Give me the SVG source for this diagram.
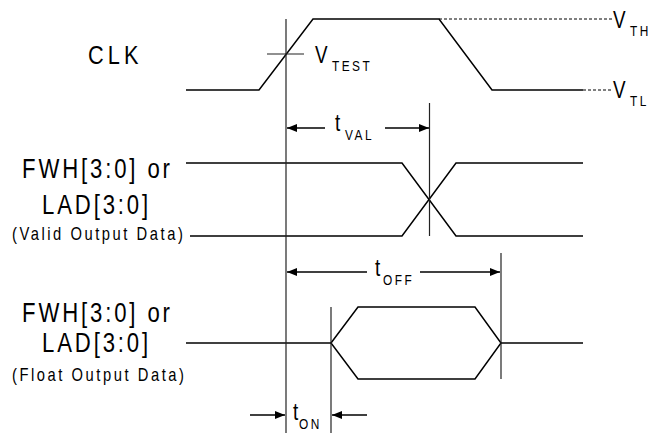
<svg xmlns="http://www.w3.org/2000/svg" width="652" height="433" viewBox="0 0 652 433">
<style>
.sig{fill:none;stroke:#000;stroke-width:1.5;stroke-linejoin:miter}
.ref{fill:none;stroke:#222;stroke-width:1.2}
.dash{fill:none;stroke:#000;stroke-width:1;stroke-dasharray:3,2}
.arr{fill:none;stroke:#000;stroke-width:1.3}
text{font-family:"Liberation Sans",Arial,sans-serif;fill:#000}
.lbl{font-size:27px;letter-spacing:3.5px}
.clk{font-size:26.5px;letter-spacing:5px}
.sm{font-size:18px;letter-spacing:3.1px}
.big{font-size:23px}
.sub{font-size:14.5px;letter-spacing:3px}
</style>
<defs>
<marker id="ah" markerWidth="11" markerHeight="9" refX="10" refY="4" orient="auto" markerUnits="userSpaceOnUse">
<path d="M0,0 L10,4 L0,8 z" fill="#000"/>
</marker>
</defs>
<g id="labels">
<text class="clk" transform="translate(88,64) scale(0.82,1)">CLK</text>
<text class="lbl" transform="translate(22,178) scale(0.82,1)">FWH[3:0] or</text>
<text class="lbl" transform="translate(42,214) scale(0.82,1)">LAD[3:0]</text>
<text class="sm" transform="translate(12,240) scale(0.82,1)">(Valid Output Data)</text>
<text class="lbl" transform="translate(22,322) scale(0.82,1)">FWH[3:0] or</text>
<text class="lbl" transform="translate(42,352) scale(0.82,1)">LAD[3:0]</text>
<text class="sm" transform="translate(12,381) scale(0.82,1)">(Float Output Data)</text>
</g>
<g id="clk">
<polyline class="sig" points="186,90 259,90 313,19 439,19 492,90 583,90"/>
<line class="dash" x1="439" y1="19" x2="612" y2="19"/>
<line class="dash" x1="583" y1="90" x2="612" y2="90"/>
<line class="ref" x1="267" y1="54" x2="304" y2="54"/>
<text class="big" transform="translate(315,63) scale(0.82,1)">V</text>
<text class="sub" transform="translate(332,71) scale(0.82,1)">TEST</text>
<text class="big" transform="translate(613,28) scale(0.82,1)">V</text>
<text class="sub" transform="translate(630,36) scale(0.82,1)">TH</text>
<text class="big" transform="translate(613,98) scale(0.82,1)">V</text>
<text class="sub" transform="translate(630,106) scale(0.82,1)">TL</text>
</g>
<g id="valid">
<polyline class="sig" points="186,163 402,163 456,236 583,236"/>
<polyline class="sig" points="190,236 402,236 456,163 583,163"/>
</g>
<g id="float">
<line class="sig" x1="186" y1="343" x2="331" y2="343"/>
<polygon class="sig" points="331,343 358,307 475,307 501,343 475,379 358,379"/>
<line class="sig" x1="501" y1="343" x2="583" y2="343"/>
</g>
<g id="connectors">
<line class="ref" x1="286" y1="19" x2="286" y2="433"/>
<line class="ref" x1="429.5" y1="103" x2="429.5" y2="236"/>
<line class="ref" x1="501" y1="253" x2="501" y2="379"/>
<line class="ref" x1="331" y1="307" x2="331" y2="433"/>
<line class="arr" x1="325" y1="128" x2="287" y2="128" marker-end="url(#ah)"/>
<line class="arr" x1="385" y1="128" x2="429" y2="128" marker-end="url(#ah)"/>
<line class="arr" x1="367" y1="272" x2="287" y2="272" marker-end="url(#ah)"/>
<line class="arr" x1="420" y1="272" x2="500" y2="272" marker-end="url(#ah)"/>
<line class="arr" x1="250" y1="415" x2="285" y2="415" marker-end="url(#ah)"/>
<line class="arr" x1="367" y1="415" x2="332" y2="415" marker-end="url(#ah)"/>
<text class="big" transform="translate(335,131) scale(0.82,1)">t</text>
<text class="sub" transform="translate(345,140) scale(0.82,1)">VAL</text>
<text class="big" transform="translate(375,276) scale(0.82,1)">t</text>
<text class="sub" transform="translate(383,285) scale(0.82,1)">OFF</text>
<text class="big" transform="translate(293,420) scale(0.82,1)">t</text>
<text class="sub" transform="translate(299,429) scale(0.82,1)">ON</text>
</g>
</svg>
